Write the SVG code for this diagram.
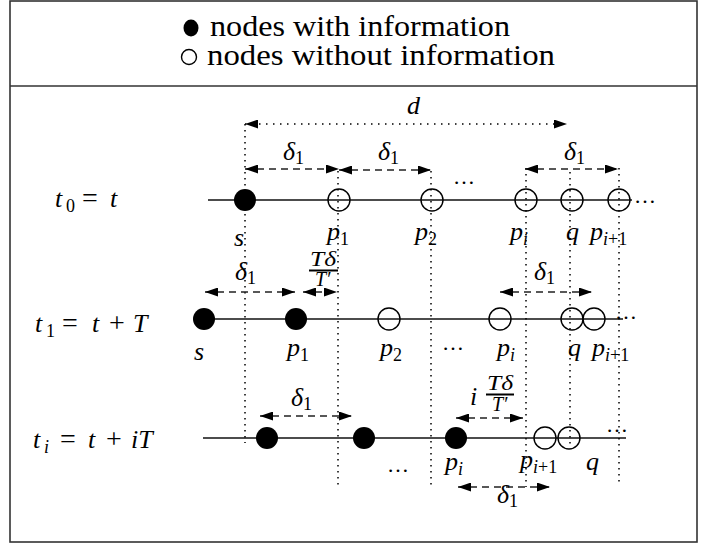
<svg xmlns="http://www.w3.org/2000/svg" width="709" height="544" viewBox="0 0 709 544">
<style>
.frame{fill:#fff;stroke:#333;stroke-width:1.6}
.leg{font-family:"Liberation Serif",serif;font-size:29px;fill:#000}
.mi{font-family:"Liberation Serif",serif;font-style:italic;font-size:26px;fill:#000}
.mr{font-family:"Liberation Serif",serif;font-style:normal;font-size:28px;fill:#000}
.sub{font-size:18px;font-style:normal}
.subi{font-size:18px;font-style:italic}
.fr{font-family:"Liberation Serif",serif;font-style:italic;font-size:20px;fill:#000}
.dots{font-family:"Liberation Serif",serif;font-size:22px;fill:#000}
.full{fill:#000}
.open{fill:none;stroke:#000;stroke-width:1.4}
.row{stroke:#111;stroke-width:1.5;fill:none}
.vdot{stroke:#000;stroke-width:1.5;stroke-dasharray:1.5 4.5;fill:none}
.dash{stroke:#222;stroke-width:1.5;stroke-dasharray:7 5;fill:none;marker-start:url(#ah);marker-end:url(#ah)}
.dotarr{stroke:#000;stroke-width:1.5;stroke-dasharray:1.5 5.5;fill:none;marker-start:url(#ah);marker-end:url(#ah)}
.bar{stroke:#000;stroke-width:2}
</style>
<defs>
<marker id="ah" viewBox="0 0 13 9" refX="13" refY="4.5" markerWidth="13" markerHeight="9" orient="auto-start-reverse" markerUnits="userSpaceOnUse"><path d="M0,0 L13,4.5 L0,9 z" fill="#000"/></marker>
</defs>
<rect class="frame" x="10" y="1" width="687" height="541"/>
<line x1="10" y1="86" x2="697" y2="86" stroke="#333" stroke-width="1.6"/>

<g id="legend">
<ellipse class="full" cx="191" cy="28" rx="7.5" ry="8.5"/>
<text class="leg" x="210" y="36" textLength="300" lengthAdjust="spacingAndGlyphs">nodes with information</text>
<circle class="open" cx="189" cy="57" r="7.5" stroke-width="1.2"/>
<text class="leg" x="207" y="65" textLength="348" lengthAdjust="spacingAndGlyphs">nodes without information</text>
</g>

<g id="row-labels">
<text class="mi" x="55" y="207">t<tspan class="sub" x="66" y="212">0</tspan><tspan class="mr" x="82" y="207">=</tspan><tspan x="110" y="207">t</tspan></text>
<text class="mi" x="35" y="332">t<tspan class="sub" x="46" y="337">1</tspan><tspan class="mr" x="62" y="332">=</tspan><tspan x="92" y="332">t</tspan><tspan class="mr" x="109" y="332">+</tspan><tspan x="133" y="332">T</tspan></text>
<text class="mi" x="33" y="448">t<tspan class="subi" x="44" y="453">i</tspan><tspan class="mr" x="60" y="448">=</tspan><tspan x="88" y="448">t</tspan><tspan class="mr" x="106" y="448">+</tspan><tspan x="131" y="448">iT</tspan></text>
</g>

<g id="connectors">
<line class="row" x1="208" y1="200" x2="632" y2="200"/>
<line class="row" x1="204" y1="319" x2="623" y2="319"/>
<line class="row" x1="203" y1="438" x2="626" y2="438" stroke="#333"/>
<line class="vdot" x1="245" y1="124" x2="245" y2="443"/>
<line class="vdot" x1="338" y1="171" x2="338" y2="485"/>
<line class="vdot" x1="431" y1="171" x2="431" y2="487"/>
<line class="vdot" x1="526" y1="168" x2="526" y2="487"/>
<line class="vdot" x1="570" y1="172" x2="570" y2="448"/>
<line class="vdot" x1="619" y1="168" x2="619" y2="485"/>
<line class="dotarr" x1="245" y1="124" x2="567" y2="124"/>
<line class="dash" x1="245" y1="169" x2="339" y2="169"/>
<line class="dash" x1="339" y1="170" x2="431" y2="170"/>
<line class="dash" x1="525" y1="169" x2="618" y2="169"/>
<line class="dash" x1="205" y1="292" x2="295" y2="292"/>
<line class="dash" x1="303" y1="292" x2="337" y2="292" stroke-dasharray="4 3"/>
<line class="dash" x1="500" y1="292" x2="592" y2="292"/>
<line class="dash" x1="260" y1="416" x2="352" y2="416"/>
<line class="dash" x1="456" y1="418" x2="523" y2="418"/>
<line class="dash" x1="458" y1="487" x2="550" y2="487"/>
</g>

<g id="measure-labels">
<text class="mi" x="407" y="114">d</text>
<text class="mi" x="283" y="160">δ<tspan class="sub" dy="4">1</tspan></text>
<text class="mi" x="378" y="160">δ<tspan class="sub" dy="4">1</tspan></text>
<text class="mi" x="564" y="160">δ<tspan class="sub" dy="4">1</tspan></text>
<text class="mi" x="235" y="280">δ<tspan class="sub" dy="4">1</tspan></text>
<text class="fr" x="310" y="266" textLength="26" lengthAdjust="spacingAndGlyphs">Tδ</text>
<line class="bar" x1="309" y1="270.5" x2="338" y2="270.5"/>
<text class="fr" x="315" y="286">T′</text>
<text class="mi" x="534" y="280">δ<tspan class="sub" dy="4">1</tspan></text>
<text class="mi" x="291" y="406">δ<tspan class="sub" dy="4">1</tspan></text>
<text class="mi" x="470" y="405">i</text>
<text class="fr" x="487" y="390" textLength="26" lengthAdjust="spacingAndGlyphs">Tδ</text>
<line class="bar" x1="486" y1="394.5" x2="514" y2="394.5"/>
<text class="fr" x="492" y="411">T′</text>
<text class="mi" x="497" y="503">δ<tspan class="sub" dy="4">1</tspan></text>
<text class="dots" x="453" y="184" textLength="27">…</text>
<text class="dots" x="442" y="350" textLength="22">…</text>
<text class="dots" x="387" y="472" textLength="26">…</text>
<text class="dots" x="634" y="203" textLength="16">…</text>
<text class="dots" x="615" y="319" textLength="23">…</text>
<text class="dots" x="606" y="432" textLength="28">…</text>
</g>

<g id="n0-s"><circle class="full" cx="245" cy="200" r="11"/><text class="mi" x="234" y="246">s</text></g>
<g id="n0-p1"><circle class="open" cx="339" cy="200" r="11"/><text class="mi" x="327" y="240">p<tspan class="sub" dy="5">1</tspan></text></g>
<g id="n0-p2"><circle class="open" cx="432" cy="200" r="11"/><text class="mi" x="415" y="240">p<tspan class="sub" dy="5">2</tspan></text></g>
<g id="n0-pi"><circle class="open" cx="526" cy="200" r="11"/><text class="mi" x="510" y="240">p<tspan class="subi" dy="5">i</tspan></text></g>
<g id="n0-q"><circle class="open" cx="572" cy="200" r="11"/><text class="mi" x="566" y="240">q</text></g>
<g id="n0-pi1"><circle class="open" cx="619" cy="200" r="11"/><text class="mi" x="590" y="240">p<tspan class="subi" dy="5">i</tspan><tspan class="sub">+1</tspan></text></g>

<g id="n1-s"><circle class="full" cx="204" cy="319" r="11"/><text class="mi" x="194" y="360">s</text></g>
<g id="n1-p1"><circle class="full" cx="296" cy="319" r="11"/><text class="mi" x="287" y="356">p<tspan class="sub" dy="5">1</tspan></text></g>
<g id="n1-p2"><circle class="open" cx="389" cy="319" r="11"/><text class="mi" x="380" y="356">p<tspan class="sub" dy="5">2</tspan></text></g>
<g id="n1-pi"><circle class="open" cx="500" cy="319" r="11"/><text class="mi" x="497" y="356">p<tspan class="subi" dy="5">i</tspan></text></g>
<g id="n1-q"><circle class="open" cx="572" cy="319" r="11"/><text class="mi" x="568" y="356">q</text></g>
<g id="n1-pi1"><circle class="open" cx="594" cy="319" r="11"/><text class="mi" x="592" y="356">p<tspan class="subi" dy="5">i</tspan><tspan class="sub">+1</tspan></text></g>

<g id="n2-a"><circle class="full" cx="267" cy="438" r="11"/></g>
<g id="n2-b"><circle class="full" cx="364" cy="438" r="11"/></g>
<g id="n2-pi"><circle class="full" cx="456" cy="438" r="11"/><text class="mi" x="445" y="470">p<tspan class="subi" dy="5">i</tspan></text></g>
<g id="n2-pi1"><circle class="open" cx="545" cy="438" r="11"/><text class="mi" x="520" y="468">p<tspan class="subi" dy="5">i</tspan><tspan class="sub">+1</tspan></text></g>
<g id="n2-q"><circle class="open" cx="569" cy="438" r="11"/><text class="mi" x="586" y="470">q</text></g>
</svg>
